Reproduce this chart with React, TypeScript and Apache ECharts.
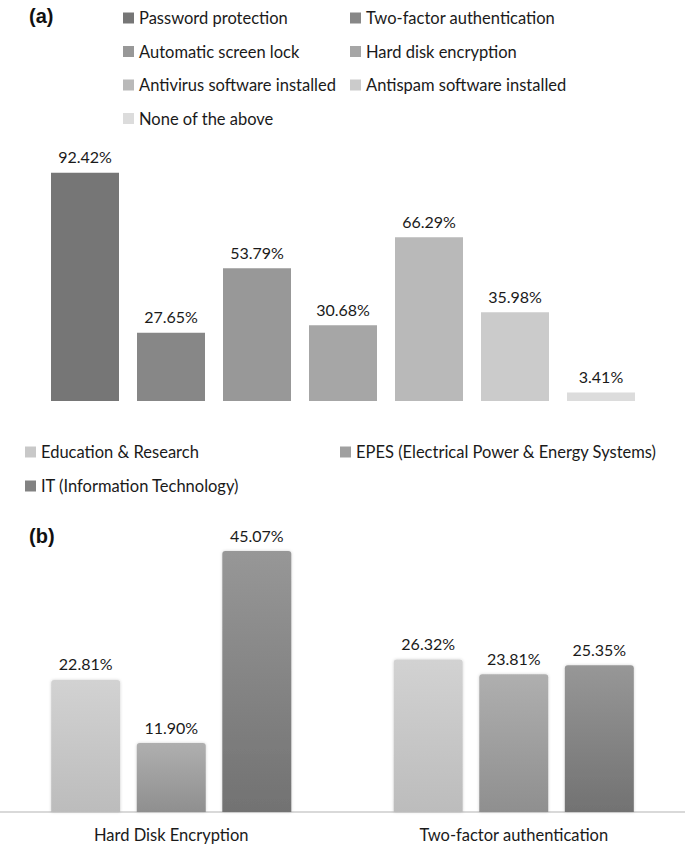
import React, { useEffect, useRef } from "react";
import * as echarts from "echarts";

const measuresA = [
  "Password protection",
  "Two-factor authentication",
  "Automatic screen lock",
  "Hard disk encryption",
  "Antivirus software installed",
  "Antispam software installed",
  "None of the above",
];
const valuesA = [92.42, 27.65, 53.79, 30.68, 66.29, 35.98, 3.41];
const colorsA = ["#767676", "#878787", "#989898", "#a6a6a6", "#b9b9b9", "#cbcbcb", "#dcdcdc"];

const categoriesB = ["Hard Disk Encryption", "Two-factor authentication"];
const sectorsB = ["Education & Research", "EPES (Electrical Power & Energy Systems)", "IT (Information Technology)"];
const valuesB = [
  [22.81, 26.32],
  [11.9, 23.81],
  [45.07, 25.35],
];
const gradB = [
  ["#d2d2d2", "#bcbcbc"],
  ["#afafaf", "#8f8f8f"],
  ["#979797", "#727272"],
];
const legendColorsB = ["#c8c8c8", "#a0a0a0", "#828282"];

const FONT = "Lato";
const TXT = "#1a1a1a";
const FS = 16.5;

export default function App() {
  const ref = useRef<HTMLDivElement>(null);
  useEffect(() => {
    document.body.style.margin = "0";
    const chart = echarts.init(ref.current!, undefined, { renderer: "svg" });
    const fmt = (p: any) => Number(p.value).toFixed(2) + "%";

    const seriesA = measuresA.map((name, i) => ({
      name,
      type: "bar",
      xAxisIndex: 0,
      yAxisIndex: 0,
      stack: "a",
      barWidth: 68,
      data: valuesA.map((v, j) => (j === i ? v : "-")),
      itemStyle: { color: colorsA[i] },
      label: {
        show: true,
        position: "top",
        distance: 8,
        formatter: fmt,
        fontFamily: FONT,
        fontSize: 16,
        color: TXT,
      },
    }));

    const seriesB = sectorsB.map((name, i) => ({
      name,
      type: "bar",
      xAxisIndex: 1,
      yAxisIndex: 1,
      barWidth: 69,
      barGap: "24%",
      data: valuesB[i],
      itemStyle: {
        color: new echarts.graphic.LinearGradient(0, 0, 0, 1, [
          { offset: 0, color: gradB[i][0] },
          { offset: 1, color: gradB[i][1] },
        ]),
        borderRadius: [3, 3, 0, 0],
        shadowBlur: 3,
        shadowColor: "rgba(0,0,0,0.18)",
      },
      label: {
        show: true,
        position: "top",
        distance: 8,
        formatter: fmt,
        fontFamily: FONT,
        fontSize: 16,
        color: TXT,
      },
    }));

    const legendText = { fontFamily: FONT, fontSize: FS, color: TXT, lineHeight: 18 };

    chart.setOption({
      animation: false,
      backgroundColor: "#ffffff",
      title: [
        { text: "(a)", left: 24, top: 1, textStyle: { fontFamily: "Liberation Sans", fontWeight: "bold", fontSize: 20, color: "#111" } },
        { text: "(b)", left: 24, top: 521, textStyle: { fontFamily: "Liberation Sans", fontWeight: "bold", fontSize: 20, color: "#111" } },
      ],
      legend: [
        {
          orient: "vertical",
          left: 118,
          top: 4,
          itemWidth: 11,
          itemHeight: 11,
          itemGap: 15.5,
          icon: "rect",
          textStyle: legendText,
          data: [measuresA[0], measuresA[2], measuresA[4], measuresA[6]],
        },
        {
          orient: "vertical",
          left: 345,
          top: 4,
          itemWidth: 11,
          itemHeight: 11,
          itemGap: 15.5,
          icon: "rect",
          textStyle: legendText,
          data: [measuresA[1], measuresA[3], measuresA[5]],
        },
        {
          orient: "vertical",
          left: 20,
          top: 438,
          itemWidth: 11,
          itemHeight: 11,
          itemGap: 16,
          icon: "rect",
          textStyle: legendText,
          data: [
            { name: sectorsB[0], itemStyle: { color: legendColorsB[0], shadowBlur: 0 } },
            { name: sectorsB[2], itemStyle: { color: legendColorsB[2], shadowBlur: 0 } },
          ],
        },
        {
          orient: "vertical",
          left: 335,
          top: 438,
          itemWidth: 11,
          itemHeight: 11,
          icon: "rect",
          textStyle: legendText,
          data: [{ name: sectorsB[1], itemStyle: { color: legendColorsB[1], shadowBlur: 0 } }],
        },
      ],
      grid: [
        { left: 42, right: 41, top: 154, height: 247 },
        { left: 0, right: 0, top: 522.5, bottom: 35 },
      ],
      xAxis: [
        {
          type: "category",
          gridIndex: 0,
          data: measuresA,
          axisLine: { show: false },
          axisTick: { show: false },
          axisLabel: { show: false },
        },
        {
          type: "category",
          gridIndex: 1,
          data: categoriesB,
          axisLine: { show: true, lineStyle: { color: "#d9d9d9", width: 2 } },
          axisTick: { show: false },
          axisLabel: { fontFamily: FONT, fontSize: FS, color: TXT, margin: 14 },
        },
      ],
      yAxis: [
        { type: "value", gridIndex: 0, min: 0, max: 100, show: false, splitLine: { show: false } },
        { type: "value", gridIndex: 1, min: 0, max: 50, show: false, splitLine: { show: false } },
      ],
      series: [...seriesA, ...seriesB],
    });
    return () => chart.dispose();
  }, []);
  return <div ref={ref} style={{ width: 685, height: 847 }} />;
}
